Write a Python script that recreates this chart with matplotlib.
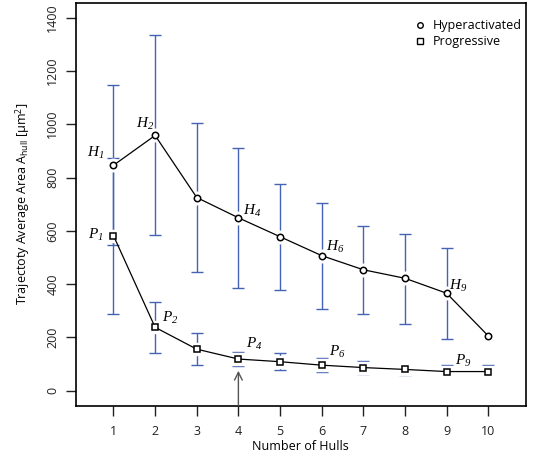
import matplotlib
matplotlib.use('Agg')
import matplotlib.pyplot as plt
from matplotlib.lines import Line2D

plt.rcParams['font.family'] = ['Open Sans', 'DejaVu Sans']
plt.rcParams['mathtext.fontset'] = 'custom'
plt.rcParams['mathtext.it'] = 'Liberation Serif:italic'
plt.rcParams['mathtext.rm'] = 'Liberation Serif:italic'
plt.rcParams['mathtext.sf'] = 'Open Sans'

# Data ------------------------------------------
hulls = [1, 2, 3, 4, 5, 6, 7, 8, 9, 10]
hyper = [846, 958, 725, 649, 578, 507, 454, 422, 366, 206]
hyper_lo = [545, 583, 444, 387, 378, 307, 289, 252, 196, None]
hyper_hi = [1146, 1333, 1004, 909, 776, 706, 618, 590, 534, None]
prog = [582, 238, 156, 119, 109, 96, 87, 80, 72, 72]
prog_lo = [287, 143, 97, 94, 76, 71, 62, 59, 52, 50]
prog_hi = [875, 334, 215, 145, 140, 122, 112, 101, 95, 95]

h_labels = {1: r'$H_{1}$', 2: r'$H_{2}$', 4: r'$H_{4}$', 6: r'$H_{6}$', 9: r'$H_{9}$'}
p_labels = {1: r'$P_{1}$', 2: r'$P_{2}$', 4: r'$P_{4}$', 6: r'$P_{6}$', 9: r'$P_{9}$'}
# offsets of the labels from their points, in points
h_offs = {1: (-13, 9), 2: (-7, 8), 4: (10, 5), 6: (9.5, 6.5), 9: (8.5, 5.3)}
p_offs = {1: (-12.5, 0.5), 2: (11, 7), 4: (11.3, 10.8), 6: (11.4, 9.4), 9: (11.7, 7.9)}

blue = '#4563b5'

fig = plt.figure(figsize=(5.33, 4.57), dpi=100)
ax = fig.add_axes([0.1426, 0.1123, 0.8437, 0.8818])

# Error bars -------------------------------------
for i, x in enumerate(hulls):
    if hyper_lo[i] is not None:
        ax.errorbar([x], [hyper[i]],
                    yerr=[[hyper[i] - hyper_lo[i]], [hyper_hi[i] - hyper[i]]],
                    fmt='none', ecolor=blue, elinewidth=1.0, capsize=4.5,
                    capthick=1.0, zorder=1)
    ax.errorbar([x], [prog[i]],
                yerr=[[prog[i] - prog_lo[i]], [prog_hi[i] - prog[i]]],
                fmt='none', ecolor=blue, elinewidth=1.0, capsize=4.5,
                capthick=1.0, zorder=1)

# white halo so the bars break around the points
ax.plot(hulls, hyper, 'o', ms=9, color='white', zorder=2)
ax.plot(hulls, prog, 's', ms=9, color='white', zorder=2)

ax.plot(hulls, hyper, '-', color='black', lw=0.9, zorder=3)
ax.plot(hulls, prog, '-', color='black', lw=0.9, zorder=3)
ax.plot(hulls, hyper, 'o', ms=4.6, mfc='white', mec='black', mew=1.1, zorder=4)
ax.plot(hulls, prog, 's', ms=4.4, mfc='white', mec='black', mew=1.1, zorder=4)

for k in h_labels:
    ax.annotate(h_labels[k], (hulls[k - 1], hyper[k - 1]), xytext=h_offs[k],
                textcoords='offset points', ha='center', va='center', fontsize=11)
for k in p_labels:
    ax.annotate(p_labels[k], (hulls[k - 1], prog[k - 1]), xytext=p_offs[k],
                textcoords='offset points', ha='center', va='center', fontsize=11)

# arrow pointing at the chosen number of hulls
ax.annotate('', xy=(4, 75), xytext=(4, -56),
            arrowprops=dict(arrowstyle='->', color='#555555', lw=1.0,
                            mutation_scale=14, shrinkA=0, shrinkB=0))

ax.set_xlim(0.1, 10.9)
ax.set_ylim(-56, 1456)
ax.set_xticks(hulls)
ax.set_yticks([0, 200, 400, 600, 800, 1000, 1200, 1400])
ax.tick_params(axis='both', direction='out', length=7, width=1, labelsize=9,
               colors='#222222', labelcolor='#222222')
ax.tick_params(axis='x', pad=7)
ax.tick_params(axis='y', pad=5)
for lab in ax.get_yticklabels():
    lab.set_rotation(90)
    lab.set_va('center')
for s in ax.spines.values():
    s.set_linewidth(1.2)

ax.set_xlabel('Number of Hulls', fontsize=9, labelpad=1)
ax.set_ylabel(r'Trajectoty Average Area A$_{\mathsf{hull}}$ [µm$^{\mathsf{2}}$]',
              fontsize=9, labelpad=10)

handles = [Line2D([], [], ls='none', marker='o', ms=4, mfc='white', mec='black', mew=1),
           Line2D([], [], ls='none', marker='s', ms=4, mfc='white', mec='black', mew=1)]
ax.legend(handles, ['Hyperactivated', 'Progressive'], loc='upper right',
          bbox_to_anchor=(1.002, 0.972), frameon=False, fontsize=9,
          handlelength=0.8, handletextpad=0.6, labelspacing=0.25,
          borderaxespad=0)

fig.savefig('out.png', dpi=100)
